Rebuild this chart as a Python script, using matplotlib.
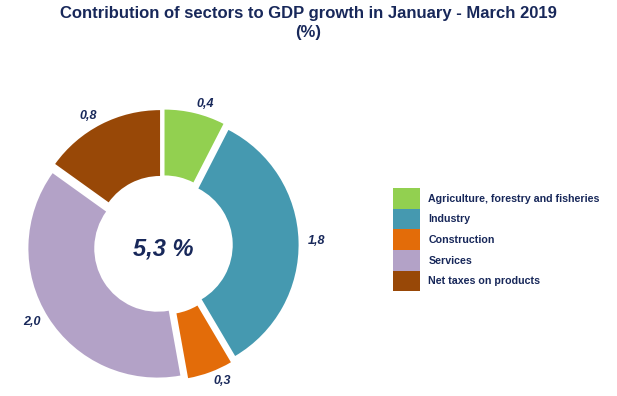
import matplotlib
matplotlib.use("Agg")
import matplotlib.pyplot as plt
from matplotlib.patches import Patch

plt.rcParams["font.family"] = ["Liberation Sans", "DejaVu Sans"]

NAVY = "#18285a"

sectors = [
    "Agriculture, forestry and fisheries",
    "Industry",
    "Construction",
    "Services",
    "Net taxes on products",
]
contrib = [0.4, 1.8, 0.3, 2.0, 0.8]
sector_colors = ["#92d050", "#4599b0", "#e36c09", "#b3a2c7", "#984807"]
total_growth = 5.3


def comma(v: float) -> str:
    return f"{v:.1f}".replace(".", ",")


fig = plt.figure(figsize=(6.17, 3.96), dpi=100)

fig.text(
    0.5, 1 - 6 / 396,
    "Contribution of sectors to GDP growth in January - March 2019\n(%)",
    ha="center", va="top", fontsize=12, fontweight="bold", color=NAVY,
    linespacing=1.3,
)

# donut
ax = fig.add_axes([14.5 / 617, 2.5 / 396, 297 / 617, 297 / 396])
wedges, texts = ax.pie(
    contrib,
    colors=sector_colors,
    startangle=90,
    counterclock=False,
    explode=[0.05] * len(contrib),
    labels=[comma(v) for v in contrib],
    labeldistance=1.07,
    wedgeprops=dict(width=0.51, linewidth=0),
    textprops=dict(fontsize=9, fontweight="bold", style="italic", color=NAVY),
)
ax.set_xlim(-1.15, 1.15)
ax.set_ylim(-1.15, 1.15)
ax.set_aspect("equal")
ax.text(0, -0.03, f"{comma(total_growth)} %", ha="center", va="center",
        fontsize=17, fontweight="bold", style="italic", color=NAVY)

# legend
handles = [Patch(facecolor=c, edgecolor="none") for c in sector_colors]
leg = fig.legend(
    handles, sectors,
    loc="upper left", bbox_to_anchor=(393 / 617, 1 - 188 / 396),
    frameon=False, fontsize=7.7,
    handlelength=2.5, handleheight=2.6, labelspacing=0.0,
    handletextpad=0.8, borderaxespad=0, borderpad=0,
)
for t in leg.get_texts():
    t.set_fontweight("bold")
    t.set_color(NAVY)

fig.savefig("out.png", dpi=100)
